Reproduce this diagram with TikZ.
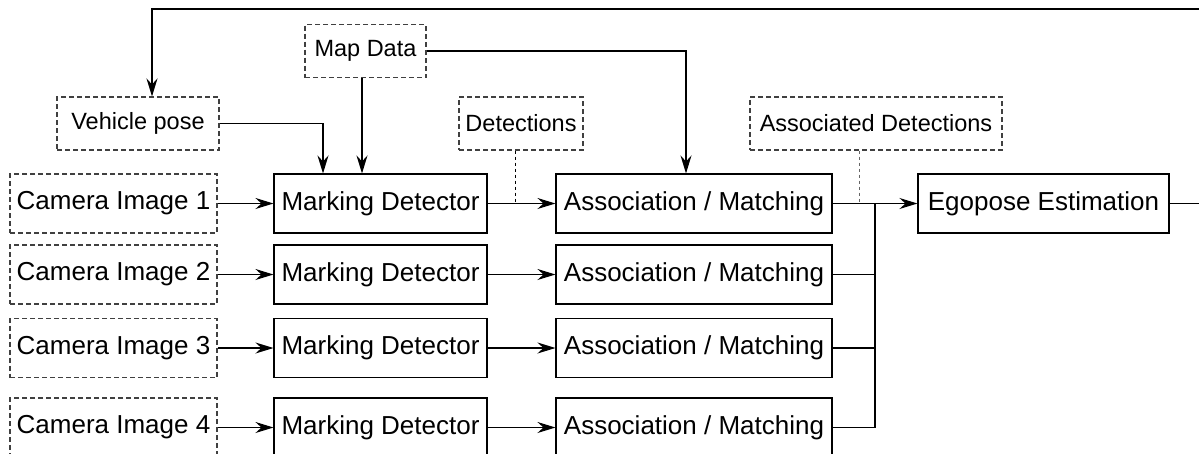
\documentclass[tikz,border=0pt]{standalone}
\usepackage{fontspec}
\setmainfont{Liberation Sans}
\usetikzlibrary{arrows.meta}

\begin{document}
\begin{tikzpicture}[x=1pt,y=-1pt,
        block/.style={draw,line width=1.1pt,minimum height=59pt,inner sep=0pt,font=\fontsize{26}{30}\selectfont},
        input/.style={block,draw=black!75,dash pattern=on 5pt off 3pt},
        tag/.style={input,minimum height=53pt,font=\fontsize{23.5}{28}\selectfont},
        link/.style={line width=1.1pt,-{Stealth[length=18pt,width=11pt,inset=6pt]}},
        wire/.style={line width=1.1pt}]
        \useasboundingbox (0,0) rectangle (1199,453);
        \clip (0,0) rectangle (1199,453);
        %% Side inputs
        \node[tag,minimum width=162pt] (pose) at (138,123.5) {Vehicle pose};
        \node[tag,minimum width=121pt] (map) at (365.5,51) {Map Data};
        \node[tag,minimum width=124pt] (dets) at (521,123.5) {Detections};
        \node[tag,minimum width=252pt] (adets) at (876,123.5) {Associated Detections};
        %% Camera rows
        \foreach \i/\y in {1/203.5,2/274.5,3/348,4/427.5}{
            \node[input,minimum width=207pt] (cam\i) at (113.5,\y) {Camera Image \i};
            \node[block,minimum width=213pt] (det\i) at (380.5,\y) {Marking Detector};
            \node[block,minimum width=276pt] (asc\i) at (694,\y) {Association / Matching};
            \draw[link] (cam\i) -- (det\i);
            \draw[link] (det\i) -- (asc\i);
        }
        \node[block,minimum width=251pt] (ego) at (1043.5,203.5) {Egopose Estimation};
        %% Merge into the estimator
        \coordinate (join) at (875,203.5);
        \draw[link] (asc1) -- (ego);
        \foreach \i in {2,3,4}
            \draw[wire] (asc\i.east) -| (join);
        %% Map and pose feeds
        \draw[link] (pose.east) -| ([xshift=-57.5pt]det1.north);
        \draw[link] ([xshift=-3.5pt]map.south) -- ([xshift=-18.5pt]det1.north);
        \draw[link] (map.east) -| ([xshift=-8pt]asc1.north);
        %% Taps
        \draw[wire,line width=0.9pt,dash pattern=on 3pt off 3pt] ([xshift=-6pt]dets.south) -- ([xshift=-6pt]dets.south |- det1.east);
        \draw[wire,line width=0.9pt,draw=black!60,dash pattern=on 3pt off 3pt] ([xshift=-17pt]adets.south) -- ([xshift=-17pt]adets.south |- asc1.east);
        %% Pose feedback
        \coordinate (back) at (1215,9);
        \draw[link] (ego.east) -| (back) -| ([xshift=14pt]pose.north);
    \end{tikzpicture}
\end{document}
